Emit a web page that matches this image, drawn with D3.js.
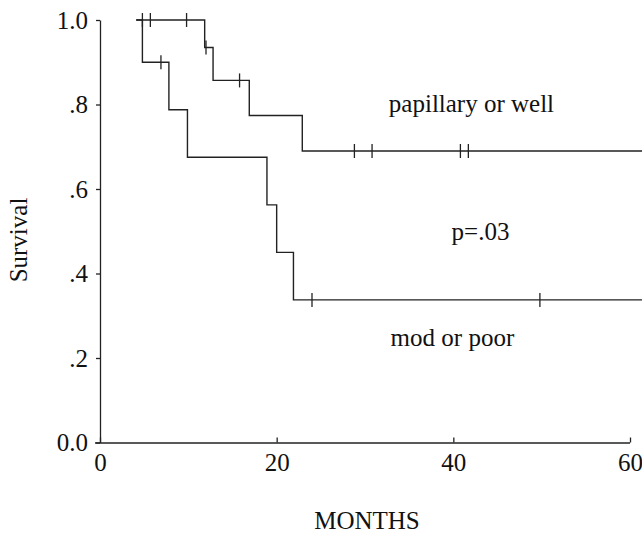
<!DOCTYPE html>
<html>
<head>
<meta charset="utf-8">
<script src="https://cdn.jsdelivr.net/npm/d3@7"></script>
<style>
  body { margin: 0; background: #fff; }
  svg { display: block; }
  text { font-family: "Liberation Serif", "Times New Roman", serif; fill: #111; }
</style>
</head>
<body>
<div id="chart"></div>
<script>
// survival curves (month, survival after the step)
const papStart = 4.1;
const papSteps = [[11.85, 0.935], [12.8, 0.857], [16.9, 0.774], [22.9, 0.69]];
const papCensored = [[4.8, 1.0], [5.7, 1.0], [9.8, 1.0], [12.0, 0.935], [15.8, 0.857], [28.8, 0.69], [30.8, 0.69], [40.8, 0.69], [41.7, 0.69]];

const modStart = 4.1;
const modSteps = [[4.8, 0.9], [7.8, 0.7875], [9.9, 0.675], [18.9, 0.5625], [20.0, 0.45], [21.9, 0.3375]];
const modCensored = [[6.9, 0.9], [24.0, 0.3375], [49.8, 0.3375]];

const curveEnd = 61.5;

const xTicks = [0, 20, 40, 60];
const yTicks = [0, 0.2, 0.4, 0.6, 0.8, 1.0];
const yTickLabels = ["0.0", ".2", ".4", ".6", ".8", "1.0"];

// annotations: [label, month, survival] of baseline start
const notes = [["papillary or well", 32.7, 0.783], ["p=.03", 39.8, 0.479], ["mod or poor", 32.9, 0.228]];

const W = 642, H = 536;
const x = d3.scaleLinear().domain([0, 60]).range([100, 630]);
const y = d3.scaleLinear().domain([0, 1]).range([442.5, 20]);

const svg = d3.select("#chart").append("svg")
    .attr("width", W)
    .attr("height", H);

// x axis, ticks pointing up into the plot
const xAxisG = svg.append("g")
    .attr("transform", "translate(0," + y(0) + ")")
    .call(d3.axisBottom(x).tickValues(xTicks).tickSize(-5).tickSizeOuter(0).tickFormat(d3.format("d")));
xAxisG.select(".domain").attr("d", "M" + (x(0) - 5) + ",0.5H" + x(60));
xAxisG.selectAll("text").attr("y", 28).attr("dy", 0).style("font-size", "25px");

// y axis
const yAxisG = svg.append("g")
    .attr("transform", "translate(" + x(0) + ",0)")
    .call(d3.axisLeft(y).tickValues(yTicks).tickSize(4).tickSizeOuter(0)
        .tickFormat((d, i) => yTickLabels[i]));
yAxisG.selectAll("text").attr("x", -12).style("font-size", "25px");

svg.selectAll(".domain, .tick line")
    .attr("stroke", "#222")
    .attr("stroke-width", 1.3);

// build step path points from start + steps
function stepPoints(start, steps) {
    const pts = [[start, 1.0]];
    let level = 1.0;
    steps.forEach(([t, s]) => {
        pts.push([t, level]);
        pts.push([t, s]);
        level = s;
    });
    pts.push([curveEnd, level]);
    return pts;
}

const line = d3.line().x(d => x(d[0])).y(d => y(d[1]));

[[papStart, papSteps, papCensored], [modStart, modSteps, modCensored]].forEach(([start, steps, cens]) => {
    svg.append("path")
        .datum(stepPoints(start, steps))
        .attr("d", line)
        .attr("fill", "none")
        .attr("stroke", "#222")
        .attr("stroke-width", 1.4);

    svg.append("g").selectAll("line")
        .data(cens)
        .join("line")
        .attr("x1", d => x(d[0]))
        .attr("x2", d => x(d[0]))
        .attr("y1", d => y(d[1]) - 7)
        .attr("y2", d => y(d[1]) + 7)
        .attr("stroke", "#222")
        .attr("stroke-width", 1.3);
});

svg.selectAll(".note")
    .data(notes)
    .join("text")
    .attr("class", "note")
    .attr("x", d => x(d[1]))
    .attr("y", d => y(d[2]))
    .style("font-size", "25px")
    .text(d => d[0]);

svg.append("text")
    .attr("transform", "translate(27,240) rotate(-90)")
    .attr("text-anchor", "middle")
    .style("font-size", "25px")
    .text("Survival");

svg.append("text")
    .attr("x", 367)
    .attr("y", 529)
    .attr("text-anchor", "middle")
    .style("font-size", "25px")
    .text("MONTHS");
</script>
</body>
</html>
